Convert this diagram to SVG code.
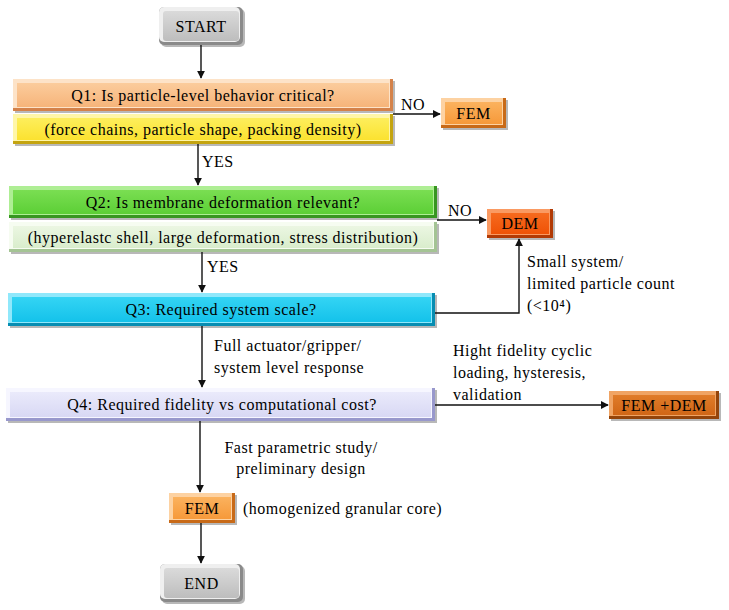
<svg xmlns="http://www.w3.org/2000/svg" width="729" height="610" viewBox="0 0 729 610">
<style>
text{font-family:"Liberation Serif","Times New Roman",serif;font-size:16px;letter-spacing:0.5px;fill:#000}
.c{text-anchor:middle}
.sh{fill:#000;opacity:.28}
.grey .d{fill:#8a8a8a}.grey .l{fill:#efefef}.grey .f{fill:url(#gGrey)}
.peach .d{fill:#d4824a}.peach .l{fill:#fde3c8}.peach .f{fill:url(#gPeach)}
.yel .d{fill:#c4a410}.yel .l{fill:#fff6a8}.yel .f{fill:url(#gYel)}
.org .d{fill:#c86a18}.org .l{fill:#fdd2a2}.org .f{fill:url(#gOrg)}
.grn .d{fill:#379620}.grn .l{fill:#aeee94}.grn .f{fill:url(#gGrn)}
.lgr .d{fill:#a4c494}.lgr .l{fill:#f6fcf1}.lgr .f{fill:url(#gLgr)}
.dem .d{fill:#b23a05}.dem .l{fill:#fa9a62}.dem .f{fill:url(#gDem)}
.cyn .d{fill:#078db2}.cyn .l{fill:#90e8fb}.cyn .f{fill:url(#gCyn)}
.lav .d{fill:#9898cc}.lav .l{fill:#f6f6ff}.lav .f{fill:url(#gLav)}
.fd .d{fill:#94440a}.fd .l{fill:#f0a464}.fd .f{fill:url(#gFd)}
.conn line,.conn polyline{stroke:#111;stroke-width:1.4;fill:none;marker-end:url(#arr)}
</style>
<defs>
<marker id="arr" viewBox="0 0 10 10" refX="9" refY="5" markerWidth="8" markerHeight="8" markerUnits="userSpaceOnUse" orient="auto"><path d="M0,0 L10,5 L0,10 z" fill="#111"/></marker>
<linearGradient id="gGrey" x1="0" y1="0" x2="0" y2="1"><stop offset="0" stop-color="#dadada"/><stop offset="1" stop-color="#bdbdbd"/></linearGradient>
<linearGradient id="gPeach" x1="0" y1="0" x2="0" y2="1"><stop offset="0" stop-color="#fbcc9c"/><stop offset="1" stop-color="#f6b47a"/></linearGradient>
<linearGradient id="gYel" x1="0" y1="0" x2="0" y2="1"><stop offset="0" stop-color="#fdee5c"/><stop offset="1" stop-color="#fbe230"/></linearGradient>
<linearGradient id="gOrg" x1="0" y1="0" x2="0" y2="1"><stop offset="0" stop-color="#fbb25e"/><stop offset="1" stop-color="#f6993a"/></linearGradient>
<linearGradient id="gGrn" x1="0" y1="0" x2="0" y2="1"><stop offset="0" stop-color="#7ade52"/><stop offset="1" stop-color="#5ccf36"/></linearGradient>
<linearGradient id="gLgr" x1="0" y1="0" x2="0" y2="1"><stop offset="0" stop-color="#ebf6e2"/><stop offset="1" stop-color="#d9edcc"/></linearGradient>
<linearGradient id="gDem" x1="0" y1="0" x2="0" y2="1"><stop offset="0" stop-color="#f66a1e"/><stop offset="1" stop-color="#ef5206"/></linearGradient>
<linearGradient id="gCyn" x1="0" y1="0" x2="0" y2="1"><stop offset="0" stop-color="#34d4f4"/><stop offset="1" stop-color="#14c2ea"/></linearGradient>
<linearGradient id="gLav" x1="0" y1="0" x2="0" y2="1"><stop offset="0" stop-color="#eaeafb"/><stop offset="1" stop-color="#d8d8f4"/></linearGradient>
<linearGradient id="gFd" x1="0" y1="0" x2="0" y2="1"><stop offset="0" stop-color="#e07c2a"/><stop offset="1" stop-color="#d06616"/></linearGradient>
</defs>

<g id="start" class="grey">
<rect class="sh" x="161" y="9" width="84" height="38" rx="5"/>
<rect class="d" x="159" y="7" width="84" height="38" rx="5"/>
<rect class="l" x="159" y="7" width="81" height="35" rx="5"/>
<rect class="f" x="163" y="11" width="76" height="30" rx="3"/>
<text class="c" x="201" y="31.5">START</text>
</g>

<g id="q1" class="peach">
<rect class="sh" x="15" y="81" width="380" height="32"/>
<rect class="d" x="13" y="79" width="380" height="32"/>
<rect class="l" x="13" y="79" width="377" height="29"/>
<rect class="f" x="17" y="83" width="372" height="24"/>
<text class="c" x="203" y="100.5">Q1: Is particle-level behavior critical?</text>
</g>
<g id="q1-detail" class="yel">
<rect class="sh" x="15" y="116" width="380" height="30"/>
<rect class="d" x="13" y="114" width="380" height="30"/>
<rect class="l" x="13" y="114" width="377" height="27"/>
<rect class="f" x="17" y="118" width="372" height="22"/>
<text class="c" x="203" y="135">(force chains, particle shape, packing density)</text>
</g>

<g id="fem1" class="org">
<rect class="sh" x="443" y="100" width="65" height="30"/>
<rect class="d" x="441" y="98" width="65" height="30"/>
<rect class="l" x="441" y="98" width="62" height="27"/>
<rect class="f" x="445" y="102" width="57" height="22"/>
<text class="c" x="473.5" y="118.5">FEM</text>
</g>

<g id="q2" class="grn">
<rect class="sh" x="11" y="188" width="428" height="32"/>
<rect class="d" x="9" y="186" width="428" height="32"/>
<rect class="l" x="9" y="186" width="425" height="29"/>
<rect class="f" x="13" y="190" width="420" height="24"/>
<text class="c" x="223" y="207.5">Q2: Is membrane deformation relevant?</text>
</g>
<g id="q2-detail" class="lgr">
<rect class="sh" x="11" y="224" width="428" height="30"/>
<rect class="d" x="9" y="222" width="428" height="30"/>
<rect class="l" x="9" y="222" width="425" height="27"/>
<rect class="f" x="13" y="226" width="420" height="22"/>
<text class="c" x="223" y="242.5">(hyperelastc shell, large deformation, stress distribution)</text>
</g>

<g id="dem" class="dem">
<rect class="sh" x="489" y="211" width="66" height="29"/>
<rect class="d" x="487" y="209" width="66" height="29"/>
<rect class="l" x="487" y="209" width="63" height="26"/>
<rect class="f" x="491" y="213" width="58" height="21"/>
<text class="c" x="520" y="229">DEM</text>
</g>

<g id="q3" class="cyn">
<rect class="sh" x="10" y="295" width="427" height="33"/>
<rect class="d" x="8" y="293" width="427" height="33"/>
<rect class="l" x="8" y="293" width="424" height="30"/>
<rect class="f" x="12" y="297" width="419" height="25"/>
<text class="c" x="221" y="315">Q3: Required system scale?</text>
</g>

<g id="q4" class="lav">
<rect class="sh" x="8" y="390" width="429" height="33"/>
<rect class="d" x="6" y="388" width="429" height="33"/>
<rect class="l" x="6" y="388" width="426" height="30"/>
<rect class="f" x="10" y="392" width="421" height="25"/>
<text class="c" x="222" y="410">Q4: Required fidelity vs computational cost?</text>
</g>

<g id="femdem" class="fd">
<rect class="sh" x="611" y="393" width="110" height="28"/>
<rect class="d" x="609" y="391" width="110" height="28"/>
<rect class="l" x="609" y="391" width="107" height="25"/>
<rect class="f" x="613" y="395" width="102" height="20"/>
<text class="c" x="664" y="410.5">FEM +DEM</text>
</g>

<g id="fem2" class="org">
<rect class="sh" x="171" y="495" width="66" height="30"/>
<rect class="d" x="169" y="493" width="66" height="30"/>
<rect class="l" x="169" y="493" width="63" height="27"/>
<rect class="f" x="173" y="497" width="58" height="22"/>
<text class="c" x="202" y="513.5">FEM</text>
<text x="243" y="514">(homogenized granular core)</text>
</g>

<g id="end" class="grey">
<rect class="sh" x="162" y="566" width="83" height="38" rx="5"/>
<rect class="d" x="160" y="564" width="83" height="38" rx="5"/>
<rect class="l" x="160" y="564" width="80" height="35" rx="5"/>
<rect class="f" x="164" y="568" width="75" height="30" rx="3"/>
<text class="c" x="201.5" y="588.5">END</text>
</g>

<g id="connectors" class="conn">
<line x1="201" y1="45" x2="201" y2="78"/>
<line x1="393" y1="114" x2="440" y2="114"/>
<line x1="198" y1="144" x2="198" y2="185"/>
<line x1="437" y1="220" x2="486" y2="220"/>
<line x1="202" y1="252" x2="202" y2="292"/>
<polyline points="435,313 519,313 519,239"/>
<line x1="202" y1="326" x2="202" y2="387"/>
<line x1="435" y1="405" x2="608" y2="405"/>
<line x1="200" y1="421" x2="200" y2="492"/>
<line x1="201" y1="523" x2="201" y2="563"/>
</g>

<g id="labels">
<text x="401" y="110">NO</text>
<text x="202" y="167">YES</text>
<text x="448" y="216">NO</text>
<text x="207" y="272">YES</text>
<text x="527" y="267">Small system/</text>
<text x="527" y="289">limited particle count</text>
<text x="527" y="311">(&lt;10⁴)</text>
<text x="214" y="351">Full actuator/gripper/</text>
<text x="214" y="373">system level response</text>
<text x="453" y="356">Hight fidelity cyclic</text>
<text x="453" y="378">loading, hysteresis,</text>
<text x="453" y="400">validation</text>
<text class="c" x="301" y="453">Fast parametric study/</text>
<text class="c" x="301" y="474">preliminary design</text>
</g>
</svg>
